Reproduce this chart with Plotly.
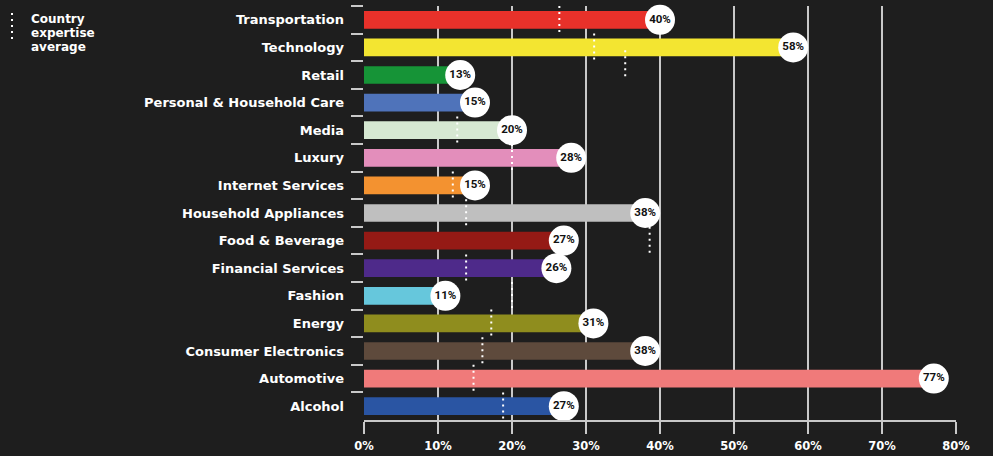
import plotly.graph_objects as go

# ---- data ----
categories = ["Transportation", "Technology", "Retail", "Personal & Household Care", "Media",
              "Luxury", "Internet Services", "Household Appliances", "Food & Beverage",
              "Financial Services", "Fashion", "Energy", "Consumer Electronics",
              "Automotive", "Alcohol"]
values = [40, 58, 13, 15, 20, 28, 15, 38, 27, 26, 11, 31, 38, 77, 27]
country_avg = [26.4, 31.1, 35.3, None, 12.6, 20.0, 12.0, 13.8, 38.6, 13.8, 20.0, 17.2, 16.0, 14.8, 18.8]
avg_row_shift = [0, 0, -0.4, 0, 0, 0, 0, 0, 0, 0, 0, 0, 0, 0, 0]
bar_colors = ["#E8312A", "#F3E531", "#169437", "#4F73BA", "#D6E8D2", "#E38EBB", "#F39230",
              "#BFBFBF", "#951A15", "#4E2A8A", "#66C7DC", "#8F8D1E", "#5E4A3C", "#F07A7A", "#2A55A3"]
x_ticks = [0, 10, 20, 30, 40, 50, 60, 70, 80]
x_ticktext = [f"{v}%" for v in x_ticks]
legend_lines = ["Country", "expertise", "average"]

W, H = 993, 456
ML, MR, MT, MB = 364, 37, 6, 36
BG = "#1e1e1e"
GRID = "#c9c9c9"
FONT = "DejaVu Sans"

fig = go.Figure()
fig.add_trace(go.Bar(
    x=values, y=categories, orientation="h",
    marker=dict(color=bar_colors, line=dict(width=0)),
    width=0.64, hoverinfo="skip", showlegend=False,
))
fig.add_trace(go.Scatter(
    x=values, y=categories, mode="markers+text",
    marker=dict(size=30, color="white", line=dict(width=0)),
    text=[f"{v}%" for v in values], textposition="middle center",
    textfont=dict(family="Liberation Sans Narrow, Roboto, sans-serif", size=11.5, color="#111111", weight="bold"),
    hoverinfo="skip", showlegend=False, cliponaxis=False,
))

dot_line = dict(color="white", width=2, dash="2px,4px")
for i, a in enumerate(country_avg):
    if a is None:
        continue
    s = avg_row_shift[i]
    fig.add_shape(type="line", xref="x", yref="y", x0=a, x1=a,
                  y0=i - 0.5 + s, y1=i + 0.5 + s, line=dot_line, layer="above")

pw = W - ML - MR
ph = H - MT - MB
def px_x(px):
    return (px - ML) / pw
def px_y(py):
    return (H - MB - py) / ph

# legend
fig.add_shape(type="line", xref="paper", yref="paper", x0=px_x(12), x1=px_x(12),
              y0=px_y(13), y1=px_y(42), line=dot_line)
for j, t in enumerate(legend_lines):
    fig.add_annotation(xref="paper", yref="paper", x=px_x(29), y=px_y(19 + 14 * j),
                       text=t, showarrow=False, xanchor="left", yanchor="middle",
                       font=dict(family=FONT, size=12, color="white", weight="bold"))

fig.update_layout(
    width=W, height=H,
    margin=dict(l=ML, r=MR, t=MT, b=MB, pad=0, autoexpand=False),
    paper_bgcolor=BG, plot_bgcolor=BG,
    bargap=0.36,
    font=dict(family=FONT, color="white"),
    xaxis=dict(range=[0, 80], tickvals=x_ticks, ticktext=x_ticktext, automargin=False,
               showgrid=True, gridcolor=GRID, gridwidth=2, zeroline=False,
               showline=True, linecolor=GRID, linewidth=2,
               ticks="outside", ticklen=12, tickcolor=GRID, tickwidth=2,
               ticklabelstandoff=2,
               tickfont=dict(family=FONT, size=11.5, color="white", weight="bold"),
               fixedrange=True),
    yaxis=dict(type="category", categoryorder="array", categoryarray=categories,
               range=[len(categories) - 0.5, -0.5], autorange=False, automargin=False,
               showgrid=False, zeroline=False, showline=False,
               tickson="boundaries", ticks="outside", ticklen=12, tickcolor=GRID, tickwidth=2,
               ticklabelstandoff=19,
               tickfont=dict(family=FONT, size=13, color="white", weight="bold"),
               fixedrange=True),
)

fig.write_html("out.html")
